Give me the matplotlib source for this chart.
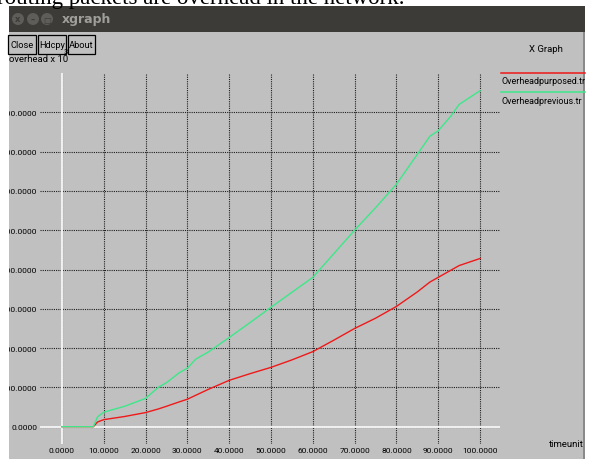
import matplotlib
matplotlib.use('Agg')
import matplotlib.pyplot as plt
from matplotlib.patches import Rectangle, Circle

W, H = 595, 460

# data (overhead x 10^3 vs time)
time = [0, 7.5, 8.5, 10, 15, 20, 23, 25, 28, 30, 32, 35, 40, 45, 50,
        55, 60, 65, 70, 75, 80, 85, 88, 90, 93, 95, 100]
overhead_purposed = [0, 0, 12, 18, 26, 36, 45, 52, 63, 70, 80, 95, 118, 135, 151,
                     170, 191, 220, 250, 276, 306, 343, 368, 380, 398, 410, 428]
overhead_previous = [0, 0, 25, 37, 52, 72, 100, 112, 137, 149, 172, 190, 227, 265, 304,
                     342, 380, 440, 500, 557, 617, 693, 739, 753, 790, 820, 855]

x_ticks = [0, 10, 20, 30, 40, 50, 60, 70, 80, 90, 100]
y_ticks = [0, 100, 200, 300, 400, 500, 600, 700, 800]
x_labels = ['%d.0000' % v for v in x_ticks]
y_labels = ['%d.0000' % v for v in y_ticks]

series_names = ['Overheadpurposed.tr', 'Overheadprevious.tr']
series_colors = ['#f01818', '#3de88a']

xfont = ['Roboto', 'DejaVu Sans']
fs = 6.5
bg = '#c0c0c0'

fig = plt.figure(figsize=(W / 100, H / 100), dpi=100)
fig.patch.set_facecolor('white')

# window chrome drawn in pixel coordinates (y downwards)
chrome = fig.add_axes([0, 0, 1, 1])
chrome.set_xlim(0, W)
chrome.set_ylim(H, 0)
chrome.axis('off')

window = Rectangle((9, 33), 576, H - 33, facecolor=bg, edgecolor='none')
chrome.add_patch(window)
chrome.add_patch(Rectangle((583, 33), 2, H - 33, facecolor='#8a8a8a', edgecolor='none'))
chrome.add_patch(Rectangle((9, 7), 576, 26, facecolor='#3c3b37', edgecolor='none'))

# caption of the page above the screenshot, mostly cut off
chrome.text(-3, 4, 'routing packets are overhead in the network.', family='Liberation Serif',
            fontsize=16.5, va='baseline', ha='left', color='black')

for cx, sym in zip([18, 33, 47], ['x', '\u2013', '\u25a1']):
    chrome.add_patch(Circle((cx, 20), 6, facecolor='#5e5d59', edgecolor='none'))
    chrome.text(cx, 20, sym, ha='center', va='center', fontsize=6, color='#3c3b37', fontweight='bold')
chrome.text(62, 20, 'xgraph', ha='left', va='center', fontsize=9, color='#9e9e9a', fontweight='bold')

for x0, x1, name in [(8, 36, 'Close'), (38, 66, 'Hdcpy'), (68, 95, 'About')]:
    chrome.add_patch(Rectangle((x0, 36), x1 - x0, 19, facecolor='none', edgecolor='black', lw=0.9))
    chrome.text((x0 + x1) / 2, 46, name, ha='center', va='center', fontsize=fs + 0.2, family=xfont)

chrome.text(9, 60, 'overhead x 10', ha='left', va='center', fontsize=fs + 0.3, family=xfont)
chrome.text(64, 52.5, '3', ha='left', va='center', fontsize=5.5, family=xfont)
chrome.text(546, 50, 'X Graph', ha='center', va='center', fontsize=fs + 0.3, family=xfont)
chrome.text(566, 445, 'timeunit', ha='center', va='center', fontsize=fs + 0.3, family=xfont)

for i, (name, color) in enumerate(zip(series_names, series_colors)):
    ly = 74 + 19 * i
    chrome.plot([501, 585], [ly, ly], color=color, lw=1.1)
    chrome.text(501, ly + 8, name, ha='left', va='center', fontsize=fs, family=xfont)

# plot area: x 0 -> px 62, 100 -> px 480 ; y 0 -> px 427.7, 800 -> px 113.3
ax = fig.add_axes([40 / W, 1 - 445 / H, 460 / W, 371 / H])
ax.patch.set_visible(False)
for s in ax.spines.values():
    s.set_visible(False)
ax.set_xlim(-5.26, 104.78)
ax.set_ylim(-44, 900)
ax.set_xticks(x_ticks, x_labels)
ax.set_yticks(y_ticks, y_labels)
ax.tick_params(length=0, labelsize=6, pad=2)
for lab in ax.get_xticklabels() + ax.get_yticklabels():
    lab.set_family(xfont)
for lab in ax.get_yticklabels():
    lab.set_clip_path(window)
    lab.set_clip_on(True)
ax.grid(True, color='#1e1e1e', linestyle=(0, (1, 1)), lw=0.8)
ax.axvline(0, color='#f2f2f2', lw=1.4)
ax.axhline(0, color='#f2f2f2', lw=1.4)

ax.plot(time, overhead_purposed, color=series_colors[0], lw=1.0)
ax.plot(time, overhead_previous, color=series_colors[1], lw=1.0)

fig.savefig('out.png', dpi=100, facecolor='white')
